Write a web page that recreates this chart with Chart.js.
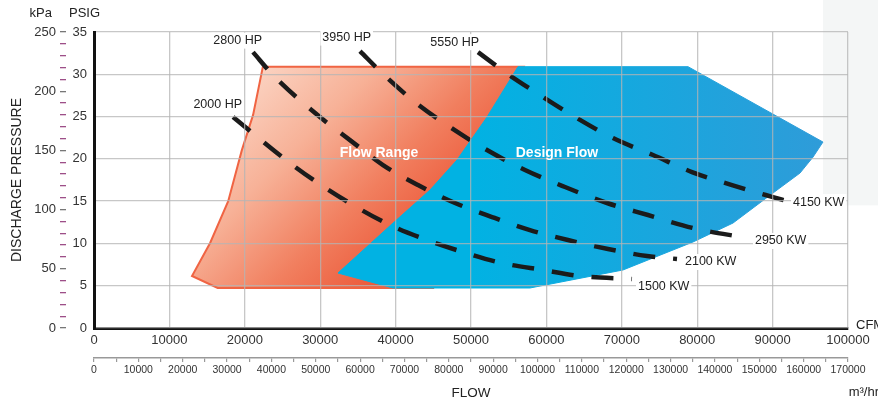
<!DOCTYPE html>
<html><head><meta charset="utf-8">
<script src="https://cdn.jsdelivr.net/npm/chart.js@4.4.1/dist/chart.umd.min.js"></script>
<style>html,body{margin:0;padding:0;background:#fff;overflow:hidden}</style>
</head><body>
<canvas id="c" width="878" height="404"></canvas>
<script>
const FONT = "'Liberation Sans', Arial, Helvetica, sans-serif";

// Flow Range region (orange)
const flowRangeCFM  = [22400, 21100, 19600, 17800, 15400, 13000, 16400, 45000, 57000, 22400];
const flowRangePSIG = [30.9, 25.2, 21.0, 15.0, 10.05, 6.15, 4.73, 4.73, 30.9, 30.9];

// Design Flow region (blue)
const designFlowCFM  = [32360, 39660, 44560, 48140, 52120, 56230, 78780, 96680, 95360, 93630, 90050, 84750, 79440, 70160, 57820, 39660, 32360];
const designFlowPSIG = [6.50, 12.41, 16.31, 19.86, 24.94, 30.9, 30.9, 21.99, 20.21, 18.32, 15.96, 12.41, 10.17, 6.86, 4.73, 4.73, 6.50];

// Power curves
const hpLabels = ['2000 HP', '2800 HP', '3950 HP', '5550 HP'];
const kwLabels = ['1500 KW', '2100 KW', '2950 KW', '4150 KW'];
const curve1CFM  = [18440, 21350, 26000, 29710, 34350, 39260, 44160, 48940, 54110, 59550, 64460, 71350];
const curve1PSIG = [24.94, 22.81, 19.50, 17.14, 14.54, 12.17, 10.40, 8.98, 7.68, 6.86, 6.15, 5.79];
const curve2CFM  = [21090, 23740, 29970, 33950, 38330, 42970, 47880, 52790, 57820, 62860, 68170, 73340, 77320];
const curve2PSIG = [32.62, 29.91, 24.94, 22.22, 19.27, 16.90, 14.78, 13.12, 11.58, 10.40, 9.34, 8.51, 8.16];
const curve3CFM  = [35280, 38200, 42570, 47210, 52120, 57160, 62470, 68040, 73470, 79440, 86600];
const curve3PSIG = [32.74, 30.14, 26.71, 23.76, 21.04, 18.68, 16.67, 14.78, 13.36, 11.82, 10.64];
const curve4CFM  = [50930, 54510, 59150, 64060, 68830, 74140, 79310, 84620, 90050, 91910];
const curve4PSIG = [32.62, 30.26, 27.54, 24.82, 22.46, 20.45, 18.44, 16.90, 15.48, 15.01];

// Region names and their anchor values
const regionNames = ['Flow Range', 'Design Flow'];
const regionCFM   = [37800, 61400];
const regionPSIG  = [20.7, 20.7];

// Axis ranges / tick steps
const cfmRange = [0, 100000], cfmStep = 10000;
const m3hRange = [0, 170000], m3hStep = 5000, m3hLabelStep = 10000;
const psigRange = [0, 35], psigStep = 5;
const kpaRange = [0, 250], kpaStep = 10, kpaLabelStep = 50;

// Label placement style (pixel offsets from curve ends)
const LABEL_STYLE = {
  hpDx: [9, 9, 11, 1], hpDy: [-13, -11.5, -13.5, -10],
  kwDx: [6, 8, 8, 6],  kwDy: [8, 3, 3, 1]
};

const zip = (xs, ys) => xs.map((v, i) => ({x: v, y: ys[i]}));
const curves = [
  zip(curve1CFM, curve1PSIG), zip(curve2CFM, curve2PSIG),
  zip(curve3CFM, curve3PSIG), zip(curve4CFM, curve4PSIG)
];

function orangeFill(ctx) {
  const ch = ctx.chart, sx = ch.scales.x, sy = ch.scales.y;
  if (!ch.chartArea || !sx || !sy) return '#f4a083';
  const g = ch.ctx.createLinearGradient(sx.getPixelForValue(19400), sy.getPixelForValue(31.7),
                                        sx.getPixelForValue(43200), sy.getPixelForValue(10.4));
  g.addColorStop(0, '#fcdbcc');
  g.addColorStop(0.4, '#f7b197');
  g.addColorStop(0.72, '#f17f5f');
  g.addColorStop(1, '#ec5a3b');
  return g;
}
function blueFill(ctx) {
  const ch = ctx.chart, sx = ch.scales.x;
  if (!ch.chartArea || !sx) return '#0daee2';
  const g = ch.ctx.createLinearGradient(sx.getPixelForValue(50000), 0, sx.getPixelForValue(96000), 0);
  g.addColorStop(0, '#01b2e3');
  g.addColorStop(1, '#2e9cd9');
  return g;
}

const curveSets = curves.map((d, i) => ({
  label: hpLabels[i], data: d, order: 1,
  borderColor: '#1b1b1b', borderWidth: 4.5, borderDash: [22, 18], borderCapStyle: 'butt',
  pointRadius: 0, fill: false, cubicInterpolationMode: 'monotone'
}));

function boxText(c, text, x, y, align) {
  c.textAlign = align; c.textBaseline = 'middle';
  const w = c.measureText(text).width;
  const left = align === 'right' ? x - w : (align === 'center' ? x - w / 2 : x);
  c.fillStyle = '#ffffff';
  c.fillRect(left - 2, y - 8, w + 4, 16);
  c.fillStyle = '#222';
  c.fillText(text, x, y);
}

const deco = {
  id: 'deco',
  beforeDraw(chart) {
    const c = chart.ctx;
    c.save();
    c.fillStyle = '#ffffff';
    c.fillRect(0, 0, chart.width, chart.height);
    c.fillStyle = '#f4f6f6';
    c.fillRect(chart.width - 55, 0, 55, chart.scales.y.getPixelForValue(14.5));
    c.restore();
  },
  afterDraw(chart) {
    const c = chart.ctx, sx = chart.scales.x, sy = chart.scales.y, a = chart.chartArea;
    c.save();
    c.font = '12.5px ' + FONT;
    curves.forEach((d, i) => {
      const f = d[0], l = d[d.length - 1];
      boxText(c, hpLabels[i], sx.getPixelForValue(f.x) + LABEL_STYLE.hpDx[i],
              sy.getPixelForValue(f.y) + LABEL_STYLE.hpDy[i], 'right');
      boxText(c, kwLabels[i], sx.getPixelForValue(l.x) + LABEL_STYLE.kwDx[i],
              sy.getPixelForValue(l.y) + LABEL_STYLE.kwDy[i], 'left');
    });
    c.font = 'bold 14px ' + FONT;
    c.fillStyle = '#ffffff'; c.textAlign = 'center'; c.textBaseline = 'middle';
    regionNames.forEach((n, i) => c.fillText(n, sx.getPixelForValue(regionCFM[i]), sy.getPixelForValue(regionPSIG[i])));
    c.fillStyle = '#222';
    c.font = '13px ' + FONT;
    c.textBaseline = 'middle';
    c.textAlign = 'right';
    c.fillText('kPa', chart.scales.y2.right - 14, a.top - 19);
    c.textAlign = 'left';
    c.fillText('PSIG', sy.left + 3, a.top - 19);
    c.fillText('CFM', a.right + 8, a.bottom - 3);
    c.textAlign = 'right';
    c.fillText('m³/hr', chart.width + 1, chart.height - 12);
    c.restore();
  }
};

new Chart(document.getElementById('c'), {
  type: 'line',
  data: {
    datasets: [
      ...curveSets,
      { label: 'Design Flow', data: zip(designFlowCFM, designFlowPSIG), order: 2,
        backgroundColor: blueFill, borderColor: blueFill, borderWidth: 1, fill: 'shape',
        pointRadius: 0, tension: 0 },
      { label: 'Flow Range', data: zip(flowRangeCFM, flowRangePSIG), order: 3,
        backgroundColor: orangeFill, borderColor: '#f06443', borderWidth: 2, fill: 'shape',
        pointRadius: 0, tension: 0 }
    ]
  },
  options: {
    responsive: false, animation: false,
    layout: { padding: { top: 32, right: 30, bottom: 0, left: 0 } },
    plugins: { legend: { display: false }, tooltip: { enabled: false } },
    scales: {
      x: {
        type: 'linear', position: 'bottom', min: cfmRange[0], max: cfmRange[1], weight: 0,
        ticks: { stepSize: cfmStep, autoSkip: false, maxRotation: 0, padding: 5, color: '#333',
                 font: { size: 13, family: FONT }, callback: v => String(v) },
        grid: { color: 'rgba(180,180,180,0.75)', lineWidth: 1.3, drawTicks: false, z: 1 },
        border: { display: true, color: '#111', width: 3, z: 1 },
        afterFit: s => { s.height = 30; }
      },
      x2: {
        type: 'linear', position: 'bottom', min: m3hRange[0], max: m3hRange[1], weight: 1,
        ticks: { stepSize: m3hStep, autoSkip: false, maxRotation: 0, padding: 2, color: '#333',
                 font: { size: 10.5, family: FONT },
                 callback: v => (v % m3hLabelStep === 0 ? String(v) : '') },
        grid: { drawOnChartArea: false, drawTicks: true, tickLength: 4, color: '#999', lineWidth: 1.2 },
        border: { display: true, color: '#999', width: 1.5 },
        title: { display: true, text: 'FLOW', color: '#222', font: { size: 13.5, family: FONT },
                 padding: { top: 0, bottom: 3 } },
        afterFit: s => { s.height = 46; }
      },
      y: {
        type: 'linear', position: 'left', min: psigRange[0], max: psigRange[1], weight: 0,
        ticks: { stepSize: psigStep, padding: 7, color: '#333', font: { size: 13, family: FONT } },
        grid: { color: 'rgba(180,180,180,0.75)', lineWidth: 1.3, drawTicks: false, z: 1 },
        border: { display: true, color: '#111', width: 3, z: 1 },
        afterFit: s => { s.width = 28; }
      },
      y2: {
        type: 'linear', position: 'left', min: kpaRange[0], max: kpaRange[1], weight: 1,
        ticks: { stepSize: kpaStep, autoSkip: false, padding: 4, color: '#333',
                 font: { size: 13, family: FONT },
                 callback: v => (v % kpaLabelStep === 0 ? String(v) : '') },
        grid: { drawOnChartArea: false, drawTicks: true, tickLength: 6, lineWidth: 1.3,
                color: c => (c.tick && c.tick.value % kpaLabelStep === 0 ? '#777' : '#9d4f88') },
        border: { display: false },
        title: { display: true, text: 'DISCHARGE PRESSURE', color: '#222',
                 font: { size: 14, family: FONT }, padding: { top: 9, bottom: 0 } },
        afterFit: s => { s.width = 66; }
      }
    }
  },
  plugins: [deco]
});
</script>
</body></html>
